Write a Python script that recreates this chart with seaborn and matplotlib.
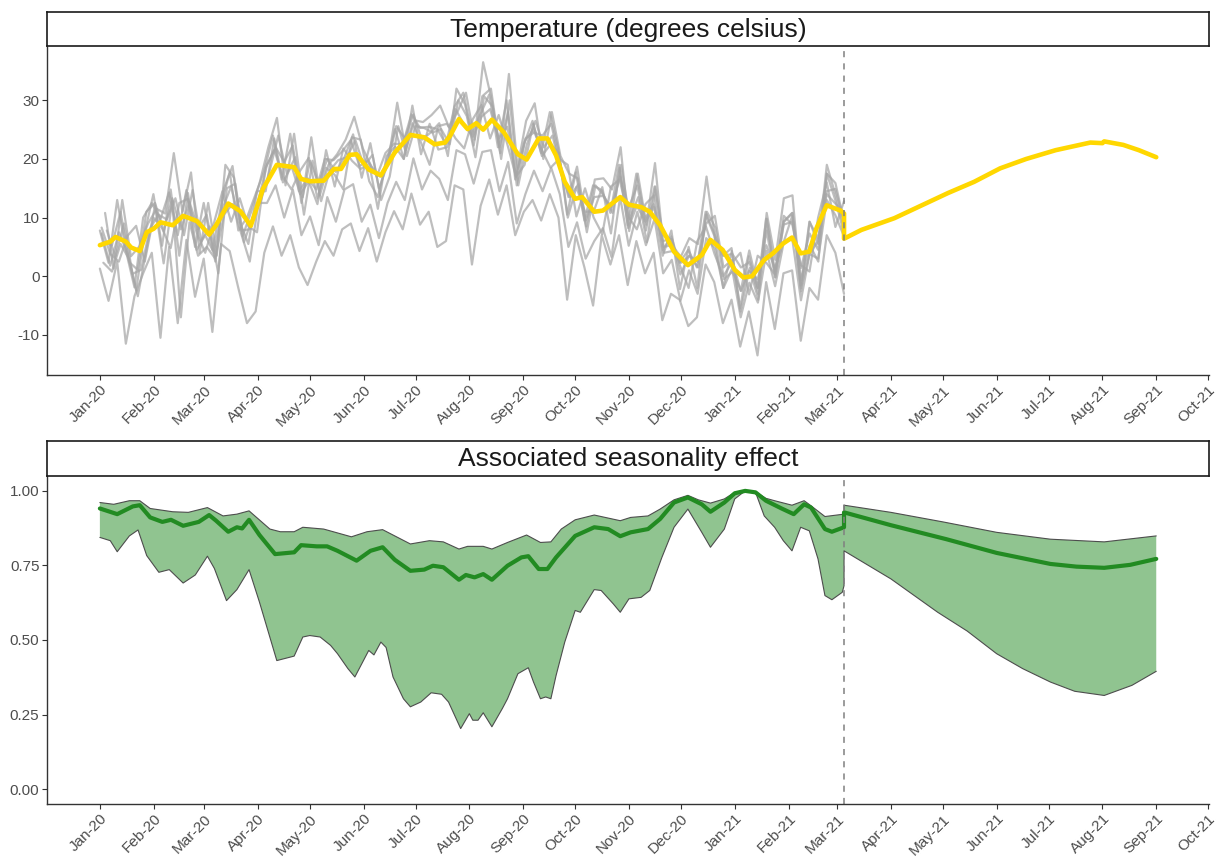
import numpy as np
import pandas as pd
import matplotlib
matplotlib.use("Agg")
import matplotlib.pyplot as plt
import matplotlib.dates as mdates
from matplotlib.ticker import FormatStrFormatter
import seaborn as sns

# ---- temperature: station series, every ~5 days, up to Mar 5 2021
station_a = [7.8, 2.3, 13.0, 4.4, -1.9, 10.0, 12.5, 9.7, 14.3, 7.0,
             14.7, 5.0, 12.5, 4.5, 12.0, 17.8, 7.8, 10.0, 14.0, 18.0,
             24.0, 16.5, 24.3, 14.5, 16.7, 14.8, 20.0, 19.8, 21.3, 23.2,
             18.8, 19.7, 17.0, 21.0, 22.6, 22.5, 27.6, 25.3, 25.5, 25.1,
             22.5, 29.0, 31.3, 24.3, 27.7, 31.0, 22.0, 30.0, 16.5, 22.5,
             26.5, 21.0, 28.0, 21.5, 10.5, 17.7, 9.5, 15.5, 14.7, 10.8,
             19.0, 8.7, 17.5, 9.8, 12.3, 6.0, 6.3, 2.3, 4.5, 1.5,
             11.0, 7.3, 3.5, 4.8, -5.5, 3.4, -2.0, 9.8, 0.8, 9.3,
             10.8, -1.6, 9.3, 6.5, 14.5, 14.9, 9.3]
station_b = [5.8, 5.3, 11.0, 2.4, 1.1, 11.0, 12.5, 7.7, 13.3, 8.0,
             12.7, 8.0, 10.5, 2.5, 15.0, 18.8, 7.8, 8.0, 13.0, 19.0,
             22.0, 19.5, 22.3, 12.5, 19.7, 15.8, 20.0, 17.8, 20.3, 24.2,
             16.8, 22.7, 15.0, 19.0, 25.6, 23.5, 27.6, 23.3, 24.5, 26.1,
             20.5, 32.0, 29.3, 22.3, 30.7, 32.0, 22.0, 28.0, 15.5, 23.5,
             24.5, 24.0, 26.0, 19.5, 13.5, 18.7, 9.5, 13.5, 13.7, 11.8,
             17.0, 11.7, 15.5, 7.8, 15.3, 7.0, 6.3, 0.3, 3.5, 2.5,
             9.0, 10.3, 1.5, 2.8, -2.5, 4.4, -2.0, 7.8, -0.2, 10.3,
             8.8, 1.4, 7.3, 4.5, 17.5, 15.9, 9.3]
station_c = [7.3, 1.8, 7.5, 3.9, -2.4, 7.5, 14.0, 5.2, 14.8, 3.5,
             14.2, 4.5, 7.0, 4.0, 11.5, 15.3, 9.3, 5.5, 14.5, 14.5,
             23.5, 16.0, 18.8, 14.0, 16.2, 12.3, 21.5, 15.3, 21.8, 19.7,
             18.3, 19.2, 11.5, 20.5, 22.1, 20.0, 29.1, 20.8, 26.0, 21.6,
             22.0, 28.5, 25.8, 23.8, 27.2, 28.5, 23.5, 25.5, 17.0, 19.0,
             26.0, 20.5, 22.5, 21.0, 10.0, 15.2, 11.0, 11.0, 15.2, 7.3,
             18.5, 8.2, 12.0, 9.3, 11.8, 3.5, 7.8, -2.2, 5.0, -2.0,
             10.5, 6.8, -2.0, 4.3, -6.0, 0.9, -0.5, 5.3, 1.3, 5.8,
             10.3, -2.1, 3.8, 6.0, 14.0, 12.4, 10.8]
station_d = [10.8, 1.3, 13.0, 3.4, 5.1, 9.0, 11.5, 10.7, 21.0, 11.0,
             17.7, 4.0, 12.5, 3.5, 19.0, 16.8, 6.8, 11.0, 16.0, 22.0,
             27.0, 15.5, 24.3, 13.5, 23.7, 13.8, 19.0, 20.8, 23.3, 27.2,
             21.8, 18.7, 17.0, 20.0, 29.6, 21.5, 26.6, 26.3, 27.5, 29.1,
             25.5, 28.0, 31.3, 23.3, 36.5, 30.0, 21.0, 34.5, 18.5, 26.5,
             29.5, 20.0, 28.0, 20.5, 17.5, 16.7, 8.5, 16.5, 16.7, 14.8,
             22.0, 7.7, 17.5, 8.8, 19.3, 5.0, 5.3, 3.3, 6.5, 5.5,
             17.0, 6.3, 3.5, 3.8, 1.5, 2.4, -3.0, 10.8, 2.8, 13.3,
             13.8, -2.6, 9.3, 5.5, 19.0, 13.9, 8.3]
station_e = [1.3, -4.2, 2.5, -11.5, -3.4, 0.5, 4.0, -10.5, 5.0, -8.0,
             6.2, -3.5, 3.0, -9.5, 5.5, 4.3, -2.0, -8.0, -6.0, 4.0,
             8.5, 3.5, 7.0, 1.5, -1.5, 2.5, 6.0, 3.5, 8.0, 9.0,
             4.3, 8.2, 2.5, 7.5, 11.1, 8.0, 14.1, 8.8, 11.0, 5.0,
             6.0, 15.5, 14.8, 2.0, 12.0, 16.5, 10.5, 15.5, 7.0, 11.0,
             13.0, 9.5, 14.0, 10.0, -4.0, 7.0, 1.5, -5.0, 7.0, 2.0,
             7.0, -1.5, 6.0, 0.5, 4.0, -7.5, -3.0, -4.0, -8.5, -7.0,
             2.0, -1.0, -8.0, -4.0, -12.0, -6.0, -13.5, -1.0, -9.0, 0.5,
             1.0, -11.0, -2.0, -4.0, 7.0, 4.0, -3.0]
station_f = [2.3, 0.8, 5.5, 2.9, -3.4, 4.5, 12.0, 2.2, 12.8, -7.0,
             9.2, 3.5, 5.0, 3.0, 10.5, 12.3, 7.3, 2.5, 12.5, 12.5,
             15.5, 10.0, 14.8, 7.0, 10.2, 5.3, 13.5, 9.3, 14.8, 15.7,
             9.3, 12.2, 6.5, 12.5, 16.1, 13.0, 20.1, 14.8, 18.0, 16.6,
             13.0, 21.5, 20.8, 15.8, 21.2, 21.5, 14.5, 19.5, 9.0, 14.0,
             18.0, 14.5, 18.5, 14.0, 5.0, 9.2, 3.0, 6.0, 8.2, 3.3,
             13.5, 5.2, 11.0, 5.3, 9.8, 0.5, 2.8, -4.2, 1.0, -3.0,
             6.5, 4.8, -2.0, 1.3, -7.0, -1.1, -4.5, 4.3, -1.7, 5.8,
             6.3, -4.1, 3.8, 3.0, 13.0, 10.4, 6.8]
station_g = [7.8, 3.3, 9.0, 0.4, 1.1, 8.0, 10.5, 9.7, 13.3, 7.0,
             14.7, 6.0, 8.5, 0.5, 15.0, 15.8, 5.8, 10.0, 13.0, 18.0,
             24.0, 17.5, 20.3, 10.5, 19.7, 12.8, 18.0, 19.8, 20.3, 23.2,
             18.8, 20.7, 13.0, 17.0, 25.6, 20.5, 25.6, 25.3, 24.5, 25.1,
             22.5, 30.0, 27.3, 20.3, 30.7, 29.0, 20.0, 30.0, 15.5, 22.5,
             26.5, 22.0, 24.0, 17.5, 13.5, 15.7, 7.5, 15.5, 13.7, 10.8,
             19.0, 9.7, 13.5, 5.8, 15.3, 4.0, 4.3, 2.3, 3.5, 1.5,
             11.0, 8.3, -0.5, 0.8, -2.5, 1.4, -4.0, 9.8, -0.2, 9.3,
             10.8, -0.6, 5.3, 2.5, 17.5, 12.9, 7.3]
station_h = [8.3, 3.8, 2.5, 6.9, 8.6, 2.5, 10.0, 8.2, 4.8, 12.5,
             13.2, 7.5, 4.0, 9.0, 14.5, 9.3, 13.3, 8.5, 7.5, 18.5,
             21.5, 17.0, 14.8, 18.0, 20.2, 13.3, 18.5, 17.3, 14.8, 23.7,
             23.3, 16.2, 13.5, 19.5, 25.1, 20.0, 26.1, 22.8, 19.0, 25.6,
             26.0, 23.5, 21.8, 26.8, 29.2, 23.5, 27.5, 22.5, 17.0, 23.0,
             25.0, 21.5, 18.5, 20.0, 19.0, 10.2, 15.0, 10.0, 7.2, 15.3,
             16.5, 10.2, 8.0, 12.3, 13.8, 4.5, 6.8, 1.8, -2.0, 6.0,
             8.5, 3.8, 0.0, 2.3, 4.0, -3.1, 3.5, 2.3, 0.3, 8.8,
             9.3, 1.9, 0.8, 10.0, 16.0, 8.4, 12.8]
station_start = {"a": "2020-01-01", "b": "2020-01-03", "c": "2020-01-02", "d": "2020-01-04",
                 "e": "2020-01-01", "f": "2020-01-03", "g": "2020-01-05", "h": "2020-01-02"}

# ---- smoothed temperature (observed, then projected)
temp_obs_dates = ["2020-01-01", "2020-01-07", "2020-01-10", "2020-01-16", "2020-01-19", "2020-01-24", "2020-01-28",
                  "2020-02-01", "2020-02-05", "2020-02-12", "2020-02-18", "2020-02-26",
                  "2020-03-04", "2020-03-08", "2020-03-15", "2020-03-22", "2020-03-28",
                  "2020-04-04", "2020-04-12", "2020-04-22", "2020-04-26",
                  "2020-05-01", "2020-05-09", "2020-05-15", "2020-05-19", "2020-05-24", "2020-05-28",
                  "2020-06-04", "2020-06-11", "2020-06-19", "2020-06-28",
                  "2020-07-06", "2020-07-12", "2020-07-18", "2020-07-21", "2020-07-26", "2020-07-31",
                  "2020-08-05", "2020-08-09", "2020-08-14", "2020-08-21", "2020-08-29",
                  "2020-09-03", "2020-09-10", "2020-09-15", "2020-09-20", "2020-09-25",
                  "2020-10-01", "2020-10-05", "2020-10-12", "2020-10-17", "2020-10-27",
                  "2020-11-01", "2020-11-08", "2020-11-13", "2020-11-19", "2020-11-27",
                  "2020-12-05", "2020-12-13", "2020-12-18", "2020-12-25",
                  "2021-01-01", "2021-01-06", "2021-01-11", "2021-01-18", "2021-01-23", "2021-01-29",
                  "2021-02-03", "2021-02-08", "2021-02-13", "2021-02-17", "2021-02-23",
                  "2021-03-03", "2021-03-05"]
temp_obs = [5.3, 5.9, 6.7, 5.9, 4.9, 4.3, 7.5,
            8.1, 9.2, 8.7, 10.3, 9.4,
            7.1, 8.7, 12.4, 11.1, 8.6,
            14.9, 19.0, 18.6, 16.6,
            16.2, 16.3, 18.3, 18.3, 20.7, 20.8,
            18.2, 17.2, 21.1, 24.1,
            23.7, 22.5, 22.8, 24.0, 26.8, 25.1,
            26.1, 25.0, 26.7, 24.5, 20.8,
            19.9, 23.5, 23.5, 20.6, 16.1,
            13.2, 13.5, 11.0, 11.2, 13.5,
            12.2, 11.8, 11.0, 8.7, 4.2,
            1.9, 3.6, 6.2, 4.5,
            1.1, -0.2, 0.0, 2.8, 3.9, 5.6,
            6.6, 3.9, 4.2, 8.1, 12.1,
            11.2, 10.7]
temp_fc_dates = ["2021-03-05", "2021-03-15", "2021-04-03", "2021-05-04", "2021-05-19", "2021-06-03", "2021-06-18",
                 "2021-07-05", "2021-07-25", "2021-08-01", "2021-08-02", "2021-08-13", "2021-08-22", "2021-09-01"]
temp_fc = [6.4, 7.9, 9.9, 14.2, 16.1, 18.4, 20.0, 21.5, 22.8, 22.7, 23.0, 22.4, 21.5, 20.3]

# ---- seasonality effect: central line
seas_obs_dates = ["2020-01-01", "2020-01-11", "2020-01-20", "2020-01-24", "2020-01-30",
                  "2020-02-06", "2020-02-11", "2020-02-18", "2020-02-27",
                  "2020-03-04", "2020-03-08", "2020-03-15", "2020-03-20", "2020-03-23", "2020-03-27",
                  "2020-04-02", "2020-04-11", "2020-04-22", "2020-04-26",
                  "2020-05-05", "2020-05-11", "2020-05-17", "2020-05-28",
                  "2020-06-05", "2020-06-12", "2020-06-19", "2020-06-28",
                  "2020-07-06", "2020-07-11", "2020-07-17", "2020-07-26", "2020-07-30",
                  "2020-08-04", "2020-08-09", "2020-08-14", "2020-08-23", "2020-08-31",
                  "2020-09-04", "2020-09-10", "2020-09-15", "2020-09-20",
                  "2020-10-01", "2020-10-12", "2020-10-20", "2020-10-27",
                  "2020-11-02", "2020-11-12", "2020-11-19", "2020-11-27",
                  "2020-12-05", "2020-12-13", "2020-12-18", "2020-12-26",
                  "2021-01-01", "2021-01-07", "2021-01-13", "2021-01-19", "2021-01-28",
                  "2021-02-04", "2021-02-10", "2021-02-14", "2021-02-22", "2021-02-26",
                  "2021-03-05"]
seas_obs = [0.941, 0.922, 0.948, 0.952, 0.911,
            0.896, 0.903, 0.883, 0.896,
            0.919, 0.900, 0.863, 0.878, 0.874, 0.903,
            0.852, 0.788, 0.794, 0.818,
            0.814, 0.814, 0.799, 0.766,
            0.799, 0.811, 0.769, 0.732,
            0.736, 0.749, 0.744, 0.702, 0.718,
            0.710, 0.721, 0.702, 0.749, 0.777,
            0.781, 0.738, 0.738, 0.777,
            0.849, 0.878, 0.872, 0.848,
            0.861, 0.872, 0.906, 0.961,
            0.978, 0.955, 0.930, 0.961,
            0.992, 1.000, 0.995, 0.967, 0.941,
            0.922, 0.955, 0.944, 0.872, 0.863,
            0.878]
seas_fc_dates = ["2021-03-05", "2021-04-01", "2021-05-03", "2021-06-01", "2021-07-02",
                 "2021-07-17", "2021-08-02", "2021-08-17", "2021-09-01"]
seas_fc = [0.928, 0.885, 0.838, 0.792, 0.755, 0.746, 0.742, 0.752, 0.772]

# ---- seasonality effect: interval bounds
upper_obs_dates = ["2020-01-01", "2020-01-09", "2020-01-18", "2020-01-24", "2020-01-30",
                   "2020-02-12", "2020-02-21",
                   "2020-03-03", "2020-03-12", "2020-03-20", "2020-03-27",
                   "2020-04-08", "2020-04-14", "2020-04-22", "2020-04-27",
                   "2020-05-09", "2020-05-25",
                   "2020-06-03", "2020-06-12", "2020-06-28",
                   "2020-07-09", "2020-07-17", "2020-07-26", "2020-07-31",
                   "2020-08-09", "2020-08-14", "2020-08-23",
                   "2020-09-03", "2020-09-11", "2020-09-17", "2020-09-23",
                   "2020-10-01", "2020-10-12", "2020-10-27",
                   "2020-11-02", "2020-11-12", "2020-11-19", "2020-11-27",
                   "2020-12-05", "2020-12-11", "2020-12-18", "2020-12-26",
                   "2021-01-01", "2021-01-07", "2021-01-13", "2021-01-19", "2021-01-24",
                   "2021-02-03", "2021-02-10", "2021-02-14", "2021-02-22",
                   "2021-03-05"]
upper_obs = [0.961, 0.955, 0.967, 0.967, 0.941,
             0.930, 0.928,
             0.944, 0.916, 0.922, 0.933,
             0.872, 0.863, 0.863, 0.878,
             0.872, 0.846,
             0.863, 0.870, 0.822,
             0.833, 0.829, 0.805, 0.814,
             0.814, 0.805, 0.827,
             0.852, 0.827, 0.829, 0.872,
             0.903, 0.919, 0.900,
             0.911, 0.916, 0.939, 0.970,
             0.985, 0.970, 0.959, 0.973,
             0.995, 1.000, 0.997, 0.975, 0.967,
             0.952, 0.967, 0.950, 0.914,
             0.922]
upper_fc_dates = ["2021-03-05", "2021-04-01", "2021-05-01", "2021-06-01", "2021-07-02", "2021-08-02", "2021-09-01"]
upper_fc = [0.952, 0.928, 0.896, 0.861, 0.838, 0.829, 0.849]

lower_obs_dates = ["2020-01-01", "2020-01-07", "2020-01-11", "2020-01-18", "2020-01-23", "2020-01-28",
                   "2020-02-04", "2020-02-10", "2020-02-18", "2020-02-25",
                   "2020-03-03", "2020-03-07", "2020-03-14", "2020-03-20", "2020-03-27",
                   "2020-04-02", "2020-04-12", "2020-04-22", "2020-04-27",
                   "2020-05-01", "2020-05-07", "2020-05-13", "2020-05-17", "2020-05-23", "2020-05-27",
                   "2020-06-04", "2020-06-07", "2020-06-11", "2020-06-14", "2020-06-18", "2020-06-24", "2020-06-28",
                   "2020-07-04", "2020-07-10", "2020-07-16", "2020-07-20", "2020-07-27",
                   "2020-08-01", "2020-08-03", "2020-08-06", "2020-08-09", "2020-08-14", "2020-08-20", "2020-08-23",
                   "2020-08-29",
                   "2020-09-04", "2020-09-07", "2020-09-11", "2020-09-14", "2020-09-17", "2020-09-20", "2020-09-25",
                   "2020-10-01", "2020-10-04", "2020-10-12", "2020-10-16", "2020-10-23", "2020-10-27",
                   "2020-11-01", "2020-11-08", "2020-11-13", "2020-11-20", "2020-11-27",
                   "2020-12-05", "2020-12-13", "2020-12-18", "2020-12-26",
                   "2021-01-01", "2021-01-07", "2021-01-13", "2021-01-18", "2021-01-24", "2021-01-29",
                   "2021-02-03", "2021-02-08", "2021-02-13", "2021-02-18", "2021-02-22", "2021-02-26",
                   "2021-03-04", "2021-03-05"]
lower_obs = [0.844, 0.833, 0.796, 0.849, 0.869, 0.783,
             0.727, 0.736, 0.691, 0.718,
             0.781, 0.740, 0.632, 0.669, 0.736,
             0.627, 0.431, 0.446, 0.510,
             0.515, 0.510, 0.482, 0.454, 0.404, 0.376,
             0.465, 0.450, 0.493, 0.475, 0.376, 0.303, 0.276,
             0.292, 0.323, 0.318, 0.292, 0.203,
             0.253, 0.231, 0.231, 0.256, 0.209, 0.270, 0.303,
             0.387,
             0.407, 0.359, 0.303, 0.309, 0.303, 0.381, 0.493,
             0.599, 0.593, 0.669, 0.666, 0.621, 0.593,
             0.638, 0.643, 0.666, 0.777, 0.878,
             0.939, 0.861, 0.811, 0.872,
             0.973, 1.000, 0.995, 0.916, 0.878, 0.833,
             0.799, 0.878, 0.866, 0.772, 0.649, 0.635,
             0.660, 0.682]
lower_fc_dates = ["2021-03-05", "2021-04-01", "2021-04-28", "2021-05-15", "2021-06-01", "2021-06-16",
                  "2021-07-02", "2021-07-16", "2021-08-02", "2021-08-18", "2021-09-01"]
lower_fc = [0.799, 0.705, 0.593, 0.53, 0.454, 0.404, 0.359, 0.328, 0.314, 0.348, 0.395]

forecast_start = "2021-03-05"
tick_months = pd.date_range("2020-01-01", "2021-10-01", freq="MS")

# ---- build frames
stations = {"a": station_a, "b": station_b, "c": station_c, "d": station_d,
            "e": station_e, "f": station_f, "g": station_g, "h": station_h}
grey_df = pd.concat(
    [pd.DataFrame({"date": pd.date_range(station_start[k], forecast_start, periods=len(v)),
                   "temp": v, "station": k}) for k, v in stations.items()],
    ignore_index=True)

temp_df = pd.DataFrame({"date": pd.to_datetime(temp_obs_dates + temp_fc_dates),
                        "temp": temp_obs + temp_fc})
seas_df = pd.DataFrame({"date": pd.to_datetime(seas_obs_dates + seas_fc_dates),
                        "effect": seas_obs + seas_fc})
upper_df = pd.DataFrame({"date": pd.to_datetime(upper_obs_dates + upper_fc_dates),
                         "effect": upper_obs + upper_fc})
lower_df = pd.DataFrame({"date": pd.to_datetime(lower_obs_dates + lower_fc_dates),
                         "effect": lower_obs + lower_fc})

# ---- style
sns.set_style("ticks")
plt.rcParams["font.family"] = ["Liberation Sans", "DejaVu Sans"]
plt.rcParams["axes.unicode_minus"] = False

fig = plt.figure(figsize=(12.16, 8.59), dpi=100)
left, width = 0.0387, 0.9556
ax1 = fig.add_axes([left, 0.5634, width, 0.3819])
ax2 = fig.add_axes([left, 0.0640, width, 0.3819])

x0 = pd.Timestamp("2020-01-01") - pd.Timedelta(days=30.45)
x1 = pd.Timestamp("2021-09-01") + pd.Timedelta(days=30.45)

# top panel
sns.lineplot(data=grey_df, x="date", y="temp", units="station", estimator=None,
             color="#a6a6a6", alpha=0.72, lw=1.6, legend=False, ax=ax1)
sns.lineplot(data=temp_df, x="date", y="temp", estimator=None, sort=False,
             color="gold", lw=3.3, ax=ax1)
ax1.set_ylim(-16.85, 39.1)
ax1.set_yticks([-10, 0, 10, 20, 30])

# bottom panel
poly_x = mdates.date2num(pd.concat([upper_df["date"], lower_df["date"][::-1]]))
poly_y = np.concatenate([upper_df["effect"].values, lower_df["effect"].values[::-1]])
ax2.fill(poly_x, poly_y, color="forestgreen", alpha=0.5, lw=0)
sns.lineplot(data=upper_df, x="date", y="effect", estimator=None, sort=False,
             color="#4d4d4d", lw=0.8, ax=ax2)
sns.lineplot(data=lower_df, x="date", y="effect", estimator=None, sort=False,
             color="#4d4d4d", lw=0.8, ax=ax2)
sns.lineplot(data=seas_df, x="date", y="effect", estimator=None, sort=False,
             color="forestgreen", lw=3.0, ax=ax2)
ax2.set_ylim(-0.05, 1.05)
ax2.set_yticks([0, 0.25, 0.5, 0.75, 1.0])
ax2.yaxis.set_major_formatter(FormatStrFormatter("%.2f"))

for ax in (ax1, ax2):
    ax.axvline(pd.Timestamp(forecast_start), color="grey", lw=1.1, ls=(0, (4, 4)))
    ax.set_xlim(x0, x1)
    ax.set_xticks(tick_months)
    ax.xaxis.set_major_formatter(mdates.DateFormatter("%b-%y"))
    ax.set_xlabel("")
    ax.set_ylabel("")
    sns.despine(ax=ax)
    for s in ("left", "bottom"):
        ax.spines[s].set_color("#333333")
        ax.spines[s].set_linewidth(1.0)
    ax.tick_params(axis="both", length=3.5, width=0.8, color="#333333",
                   labelsize=11, labelcolor="#4d4d4d", pad=2)
    for lab in ax.get_xticklabels():
        lab.set_rotation(45)
        lab.set_ha("right")
        lab.set_va("top")
        lab.set_rotation_mode("anchor")

# facet strips
for bottom, h, title in [(0.9465, 0.0396, "Temperature (degrees celsius)"),
                         (0.4459, 0.0407, "Associated seasonality effect")]:
    sax = fig.add_axes([left, bottom, width, h])
    sax.set_xticks([])
    sax.set_yticks([])
    for s in sax.spines.values():
        s.set_visible(True)
        s.set_color("#1a1a1a")
        s.set_linewidth(1.2)
    sax.text(0.5, 0.48, title, ha="center", va="center", fontsize=19,
             color="#1a1a1a", transform=sax.transAxes)

fig.savefig("out.png", dpi=100)
